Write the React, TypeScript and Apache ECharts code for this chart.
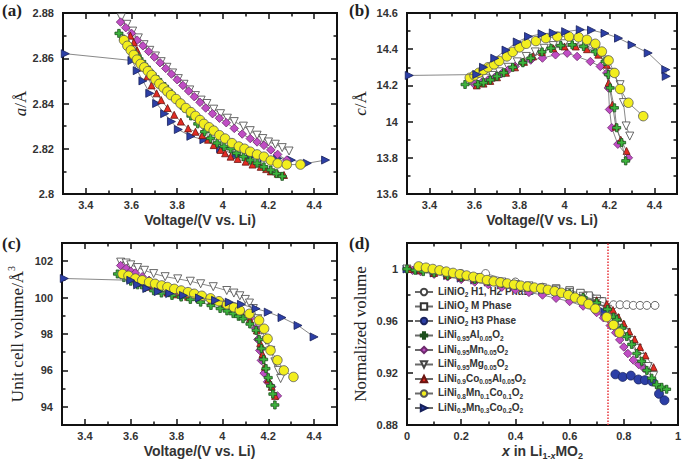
import React, { useEffect, useRef } from "react";
import * as echarts from "echarts";

// ---------------- tick values ----------------
const voltTicks = [3.4, 3.6, 3.8, 4, 4.2, 4.4];
const voltMinor = [3.5, 3.7, 3.9, 4.1, 4.3];
const aTicks = [2.8, 2.82, 2.84, 2.86, 2.88];
const aMinor = [2.81, 2.83, 2.85, 2.87];
const cTicks = [13.6, 13.8, 14, 14.2, 14.4, 14.6];
const cMinor = [13.7, 13.9, 14.1, 14.3, 14.5];
const volTicks = [94, 96, 98, 100, 102];
const volMinor = [95, 97, 99, 101];
const xTicks = [0, 0.2, 0.4, 0.6, 0.8, 1];
const xMinor = [0.1, 0.3, 0.5, 0.7, 0.9];
const normTicks = [0.88, 0.92, 0.96, 1];
const normMinor = [0.9, 0.94, 0.98];
const phaseBoundaryX = 0.737;

// ---------------- series names ----------------
const N_H12 = "LiNiO2 H1, H2 Phase";
const N_M = "LiNiO2 M Phase";
const N_H3 = "LiNiO2 H3 Phase";
const N_AL = "LiNi0.95Al0.05O2";
const N_MN = "LiNi0.95Mn0.05O2";
const N_MG = "LiNi0.95Mg0.05O2";
const N_COAL = "LiNi0.9Co0.05Al0.05O2";
const N_811 = "LiNi0.8Mn0.1Co0.1O2";
const N_532 = "LiNi0.5Mn0.3Co0.2O2";
const legendNames = [N_H12, N_M, N_H3, N_AL, N_MN, N_MG, N_COAL, N_811, N_532];
const legendRich: Record<string, string> = {
  [N_H12]: "{n|LiNiO}{s|2}{n| H1, H2 Phase}",
  [N_M]: "{n|LiNiO}{s|2}{n| M Phase}",
  [N_H3]: "{n|LiNiO}{s|2}{n| H3 Phase}",
  [N_AL]: "{n|LiNi}{s|0.95}{n|Al}{s|0.05}{n|O}{s|2}",
  [N_MN]: "{n|LiNi}{s|0.95}{n|Mn}{s|0.05}{n|O}{s|2}",
  [N_MG]: "{n|LiNi}{s|0.95}{n|Mg}{s|0.05}{n|O}{s|2}",
  [N_COAL]: "{n|LiNi}{s|0.9}{n|Co}{s|0.05}{n|Al}{s|0.05}{n|O}{s|2}",
  [N_811]: "{n|LiNi}{s|0.8}{n|Mn}{s|0.1}{n|Co}{s|0.1}{n|O}{s|2}",
  [N_532]: "{n|LiNi}{s|0.5}{n|Mn}{s|0.3}{n|Co}{s|0.2}{n|O}{s|2}",
};

// ---------------- (a) lattice a vs voltage ----------------
const aAl = [[3.545,2.871],[3.565,2.8685],[3.585,2.866],[3.605,2.8635],[3.625,2.861],[3.645,2.8585],[3.665,2.856],[3.69,2.853],[3.715,2.8505],[3.745,2.8475],[3.773,2.8445],[3.8,2.8415],[3.83,2.838],[3.86,2.8345],[3.89,2.831],[3.92,2.8275],[3.946,2.8246],[3.975,2.8225],[4.005,2.821],[4.034,2.82],[4.06,2.818],[4.09,2.8165],[4.12,2.815],[4.15,2.8136],[4.18,2.812],[4.21,2.8106],[4.235,2.809],[4.26,2.8078]];
const aMn = [[3.552,2.876],[3.575,2.8735],[3.6,2.871],[3.625,2.868],[3.65,2.8655],[3.675,2.863],[3.7,2.8605],[3.725,2.858],[3.75,2.8555],[3.775,2.853],[3.8,2.8505],[3.825,2.848],[3.85,2.8455],[3.875,2.843],[3.9,2.8405],[3.925,2.838],[3.955,2.8355],[3.985,2.8335],[4.015,2.8315],[4.05,2.829],[4.085,2.8265],[4.12,2.8245],[4.15,2.823],[4.18,2.8215],[4.21,2.8195],[4.24,2.8175],[4.28,2.815]];
const aMg = [[3.555,2.878],[3.58,2.875],[3.605,2.872],[3.63,2.869],[3.655,2.866],[3.68,2.8635],[3.705,2.861],[3.73,2.8585],[3.755,2.856],[3.78,2.8535],[3.805,2.851],[3.83,2.8485],[3.855,2.846],[3.88,2.8435],[3.905,2.8415],[3.93,2.84],[3.96,2.8375],[3.99,2.8355],[4.02,2.8335],[4.05,2.832],[4.09,2.83],[4.12,2.828],[4.15,2.826],[4.175,2.8245],[4.2,2.823],[4.23,2.822],[4.26,2.8205],[4.29,2.819]];
const aCoAl = [[3.595,2.87],[3.61,2.867],[3.624,2.8636],[3.638,2.86],[3.652,2.856],[3.67,2.852],[3.688,2.848],[3.71,2.8445],[3.73,2.8415],[3.758,2.838],[3.787,2.835],[3.816,2.832],[3.848,2.829],[3.88,2.8275],[3.91,2.826],[3.935,2.824],[3.96,2.8216],[3.99,2.8195],[4.01,2.818],[4.034,2.8165],[4.065,2.8155],[4.1,2.8143],[4.13,2.813],[4.166,2.812],[4.19,2.811],[4.21,2.81],[4.24,2.809],[4.268,2.8084]];
const a811 = [[3.567,2.868],[3.582,2.8655],[3.597,2.8635],[3.61,2.8615],[3.624,2.8594],[3.64,2.8575],[3.656,2.856],[3.672,2.8543],[3.688,2.8526],[3.705,2.8505],[3.722,2.8487],[3.74,2.847],[3.757,2.8453],[3.773,2.8437],[3.795,2.842],[3.815,2.84],[3.838,2.838],[3.86,2.8362],[3.88,2.8345],[3.9,2.8327],[3.917,2.831],[3.94,2.8295],[3.96,2.828],[3.985,2.826],[4.01,2.8245],[4.04,2.8225],[4.07,2.821],[4.095,2.82],[4.12,2.8187],[4.15,2.8175],[4.18,2.8165],[4.21,2.8148],[4.24,2.8135],[4.28,2.813],[4.34,2.813]];
const a532 = [[3.31,2.862],[3.602,2.859],[3.625,2.8545],[3.65,2.85],[3.68,2.8445],[3.71,2.84],[3.745,2.8355],[3.775,2.832],[3.805,2.8285],[3.86,2.8255],[3.917,2.824],[3.99,2.82],[4.06,2.817],[4.12,2.8165],[4.18,2.816],[4.24,2.8158],[4.3,2.815],[4.37,2.8136],[4.45,2.815]];

// ---------------- (b) lattice c vs voltage ----------------
const bAl = [[3.558,14.205],[3.615,14.205],[3.64,14.215],[3.67,14.23],[3.7,14.25],[3.73,14.27],[3.77,14.3],[3.815,14.325],[3.85,14.35],[3.9,14.385],[3.94,14.405],[3.983,14.42],[4.034,14.424],[4.085,14.415],[4.137,14.387],[4.18,14.332],[4.195,14.26],[4.203,14.186],[4.222,14.076],[4.232,13.966],[4.254,13.884],[4.272,13.783]];
const bMn = [[3.6,14.205],[3.63,14.215],[3.66,14.23],[3.69,14.245],[3.72,14.265],[3.75,14.285],[3.78,14.305],[3.815,14.325],[3.85,14.34],[3.902,14.351],[3.96,14.369],[4.012,14.378],[4.056,14.36],[4.115,14.332],[4.159,14.305],[4.188,14.269],[4.195,14.186],[4.2,14.067],[4.21,13.966],[4.237,13.875],[4.284,13.8]];
const bMg = [[3.58,14.225],[3.62,14.23],[3.65,14.24],[3.68,14.255],[3.71,14.275],[3.75,14.3],[3.79,14.33],[3.83,14.36],[3.87,14.385],[3.91,14.405],[3.95,14.42],[4,14.43],[4.05,14.432],[4.1,14.42],[4.14,14.39],[4.18,14.34],[4.21,14.27],[4.247,14.204],[4.262,14.105],[4.274,13.976],[4.29,13.92]];
const bCoAl = [[3.61,14.2],[3.64,14.21],[3.67,14.225],[3.7,14.245],[3.74,14.27],[3.78,14.3],[3.82,14.33],[3.86,14.36],[3.9,14.385],[3.95,14.405],[4,14.415],[4.05,14.415],[4.1,14.4],[4.15,14.37],[4.188,14.314],[4.196,14.214],[4.213,14.094],[4.228,13.972],[4.25,13.9],[4.276,13.838]];
const b811 = [[3.579,14.242],[3.6,14.255],[3.62,14.27],[3.64,14.285],[3.66,14.3],[3.687,14.316],[3.71,14.335],[3.744,14.36],[3.77,14.385],[3.8,14.41],[3.83,14.43],[3.873,14.445],[3.917,14.461],[3.968,14.47],[4.02,14.47],[4.063,14.466],[4.1,14.452],[4.137,14.43],[4.166,14.387],[4.196,14.338],[4.222,14.269],[4.247,14.18],[4.284,14.104],[4.35,14.03]];
const b532 = [[3.31,14.255],[3.61,14.26],[3.64,14.3],[3.69,14.35],[3.74,14.395],[3.79,14.44],[3.84,14.47],[3.9,14.485],[3.95,14.49],[4.005,14.497],[4.07,14.508],[4.12,14.505],[4.18,14.488],[4.24,14.461],[4.3,14.424],[4.372,14.379],[4.45,14.287],[4.452,14.25]];

// ---------------- (c) unit cell volume vs voltage ----------------
const cAl = [[3.542,101.3],[3.57,101.1],[3.6,100.9],[3.63,100.7],[3.66,100.55],[3.7,100.38],[3.734,100.25],[3.78,100.12],[3.82,100.03],[3.86,99.9],[3.905,99.75],[3.95,99.57],[3.99,99.4],[4.02,99.27],[4.047,99.12],[4.07,98.97],[4.09,98.84],[4.12,98.55],[4.147,98.2],[4.16,97.7],[4.17,97.2],[4.18,96.6],[4.19,96.1],[4.2,95.6],[4.21,95.15],[4.22,94.7],[4.229,94.1]];
const cMn = [[3.556,101.76],[3.58,101.6],[3.6,101.45],[3.62,101.35],[3.65,101.15],[3.68,100.95],[3.71,100.78],[3.75,100.6],[3.8,100.42],[3.85,100.25],[3.9,100.08],[3.95,99.9],[4,99.7],[4.04,99.5],[4.08,99.25],[4.12,98.85],[4.145,98.3],[4.155,97.7],[4.163,97.1],[4.17,96.55],[4.182,95.85],[4.197,95.37],[4.215,95.1],[4.24,94.6]];
const cMg = [[3.556,101.95],[3.58,101.9],[3.6,101.8],[3.63,101.65],[3.66,101.5],[3.7,101.32],[3.75,101.15],[3.805,101.03],[3.86,100.9],[3.905,100.76],[3.96,100.6],[4.019,100.39],[4.05,100.25],[4.076,100.1],[4.1,99.9],[4.118,99.7],[4.135,99.4],[4.154,98.84],[4.172,98.2],[4.19,97.65],[4.211,97.1],[4.229,96.47],[4.244,96],[4.254,95.55]];
const cCoAl = [[3.59,101.25],[3.62,101],[3.65,100.8],[3.68,100.6],[3.72,100.42],[3.76,100.28],[3.8,100.18],[3.85,100.05],[3.9,99.92],[3.95,99.78],[4,99.6],[4.04,99.42],[4.08,99.18],[4.12,98.8],[4.15,98.2],[4.165,97.5],[4.175,96.9],[4.185,96.2],[4.2,95.5],[4.215,95.1],[4.23,94.6]];
const c811 = [[3.564,101.3],[3.59,101.2],[3.62,101.05],[3.65,100.95],[3.68,100.85],[3.706,100.76],[3.735,100.67],[3.76,100.58],[3.79,100.48],[3.82,100.39],[3.85,100.3],[3.877,100.21],[3.91,100.1],[3.948,99.96],[3.985,99.8],[4.02,99.63],[4.05,99.47],[4.076,99.3],[4.118,99.11],[4.16,98.75],[4.182,98.29],[4.197,97.74],[4.21,97.1],[4.24,96.56],[4.268,96],[4.31,95.64]];
const c532 = [[3.31,101.05],[3.6,100.95],[3.63,100.7],[3.67,100.5],[3.72,100.33],[3.77,100.22],[3.83,100.12],[3.9,99.98],[3.97,99.85],[4.03,99.75],[4.083,99.63],[4.147,99.39],[4.2,99.2],[4.26,98.9],[4.33,98.47],[4.4,97.84]];

// ---------------- (d) normalized volume vs x ----------------
const dH12 = [[0,1],[0.1,0.998],[0.2,0.9965],[0.29,0.9965],[0.4,0.99],[0.5,0.986],[0.6,0.982],[0.68,0.978],[0.72,0.975],[0.762,0.9725],[0.786,0.9725],[0.811,0.9725],[0.835,0.972],[0.86,0.972],[0.885,0.972],[0.915,0.972]];
const dM = [[0.55,0.985],[0.6,0.9835],[0.64,0.9815],[0.67,0.9795],[0.7,0.977],[0.72,0.975]];
const dH3 = [[0.769,0.919],[0.796,0.917],[0.826,0.918],[0.854,0.915],[0.878,0.9145],[0.905,0.9135],[0.93,0.904],[0.95,0.899]];
const dAl = [[0,1],[0.03,0.999],[0.06,0.998],[0.1,0.997],[0.15,0.995],[0.2,0.9935],[0.25,0.992],[0.3,0.9905],[0.35,0.989],[0.4,0.9875],[0.45,0.986],[0.5,0.9845],[0.55,0.983],[0.6,0.981],[0.65,0.978],[0.7,0.974],[0.74,0.969],[0.762,0.963],[0.774,0.961],[0.792,0.9545],[0.811,0.948],[0.829,0.942],[0.848,0.935],[0.866,0.929],[0.885,0.922],[0.903,0.916],[0.921,0.911],[0.94,0.909],[0.958,0.9075]];
const dMn = [[0.02,0.999],[0.05,0.998],[0.1,0.996],[0.15,0.994],[0.2,0.992],[0.25,0.99],[0.3,0.988],[0.35,0.986],[0.4,0.984],[0.45,0.982],[0.5,0.98],[0.55,0.9775],[0.6,0.975],[0.65,0.9715],[0.7,0.9665],[0.725,0.9625],[0.75,0.9565],[0.77,0.951],[0.785,0.9455],[0.8,0.94],[0.815,0.935],[0.835,0.93],[0.855,0.9265],[0.875,0.9235]];
const dMg = [[0,1],[0.05,0.999],[0.1,0.997],[0.15,0.996],[0.2,0.994],[0.25,0.993],[0.3,0.991],[0.35,0.99],[0.4,0.988],[0.45,0.987],[0.5,0.9855],[0.55,0.984],[0.6,0.982],[0.65,0.979],[0.7,0.975],[0.74,0.969],[0.77,0.962],[0.79,0.9565],[0.81,0.951],[0.83,0.945],[0.85,0.939],[0.87,0.932],[0.89,0.925],[0.91,0.918]];
const dCoAl = [[0.01,1],[0.05,0.999],[0.1,0.997],[0.15,0.9955],[0.2,0.994],[0.25,0.9925],[0.3,0.991],[0.35,0.9895],[0.4,0.988],[0.45,0.9865],[0.5,0.985],[0.55,0.9835],[0.6,0.9815],[0.65,0.979],[0.7,0.976],[0.737,0.973],[0.76,0.9685],[0.78,0.963],[0.8,0.958],[0.82,0.952],[0.84,0.946],[0.86,0.94],[0.88,0.9335],[0.91,0.9245]];
const d811 = [[0.043,1.002],[0.07,1.001],[0.095,1],[0.12,0.999],[0.145,0.998],[0.17,0.997],[0.195,0.996],[0.22,0.995],[0.245,0.994],[0.27,0.993],[0.295,0.9915],[0.32,0.9905],[0.345,0.9897],[0.37,0.9889],[0.395,0.988],[0.42,0.9872],[0.445,0.9865],[0.47,0.9857],[0.495,0.985],[0.52,0.984],[0.545,0.9829],[0.57,0.9817],[0.595,0.98],[0.62,0.978],[0.645,0.9758],[0.67,0.973],[0.695,0.9695],[0.737,0.963],[0.762,0.957],[0.784,0.951]];
const d532 = [[0,1],[0.05,0.999],[0.1,0.997],[0.15,0.995],[0.2,0.993],[0.25,0.9915],[0.3,0.99],[0.35,0.9885],[0.4,0.987],[0.45,0.9855],[0.5,0.984],[0.55,0.9825],[0.6,0.9805],[0.65,0.9775],[0.7,0.973],[0.73,0.967]];

// ---------------- styles ----------------
const SANS = "'Liberation Sans', Arial, sans-serif";
const SERIF = "'Liberation Serif', 'Times New Roman', serif";
const PLUS = "path://M3.4,0H6.6V3.4H10V6.6H6.6V10H3.4V6.6H0V3.4H3.4Z";
const DOWN = "path://M0,0L10,0L5,9Z";
const RIGHT = "path://M0,0L9,5L0,10Z";

type St = { symbol: string; size: number; fill: string; stroke: string; z: number };
const ST: Record<string, St> = {
  al: { symbol: PLUS, size: 8, fill: "#3db53d", stroke: "#1d4f1d", z: 6 },
  mn: { symbol: "diamond", size: 8.5, fill: "#c04dc4", stroke: "#6d2a6d", z: 4 },
  mg: { symbol: DOWN, size: 8, fill: "#ffffff", stroke: "#444444", z: 3 },
  coal: { symbol: "triangle", size: 7, fill: "#e32b22", stroke: "#6a1410", z: 5 },
  n811: { symbol: "circle", size: 9.5, fill: "#f2ee1e", stroke: "#555555", z: 7 },
  n532: { symbol: RIGHT, size: 8, fill: "#2c3fa6", stroke: "#16205a", z: 2 },
  h12: { symbol: "circle", size: 8, fill: "#ffffff", stroke: "#444444", z: 2 },
  m: { symbol: "rect", size: 7.5, fill: "#ffffff", stroke: "#333333", z: 2 },
  h3: { symbol: "circle", size: 9, fill: "#2c3fa6", stroke: "#1a2460", z: 3 },
};

function ser(name: string, data: number[][], g: number, st: St, extra: any = {}) {
  return {
    type: "line",
    name,
    data,
    xAxisIndex: g * 4,
    yAxisIndex: g * 4,
    symbol: st.symbol,
    symbolSize: st.size,
    showSymbol: true,
    showAllSymbol: true,
    lineStyle: { color: "#6a6a6a", width: 0.8 },
    itemStyle: { color: st.fill, borderColor: st.stroke, borderWidth: 0.8 },
    z: st.z,
    silent: true,
    emphasis: { disabled: true },
    ...extra,
  };
}

const fmt = (v: number) => String(+Number(v).toFixed(4));

function axes(g: number, dim: "x" | "y", min: number, max: number, majors: number[], minors: number[], main: any) {
  const pos = dim === "x" ? ["bottom", "top", "top", "bottom"] : ["left", "right", "right", "left"];
  const list: any[] = [0, 1, 2, 3].map((i) => ({
    type: "value",
    gridIndex: g,
    min,
    max,
    position: pos[i],
    axisLine: { show: false, onZero: false },
    splitLine: { show: false },
    axisPointer: { show: false },
    axisLabel: { show: false },
    axisTick: {
      show: true,
      inside: true,
      length: i < 2 ? 6 : 3.5,
      customValues: i < 2 ? majors : minors,
      lineStyle: { color: "#111", width: 1.5 },
    },
  }));
  list[0].axisLabel = {
    show: true,
    customValues: majors,
    formatter: fmt,
    margin: dim === "x" ? 5 : 9,
    fontSize: 11,
    fontWeight: "bold",
    color: "#333",
    fontFamily: SANS,
  };
  Object.assign(list[0], main);
  return list;
}

const voltName = {
  name: "Voltage/(V vs. Li)",
  nameLocation: "middle",
  nameGap: 19,
  nameTextStyle: { fontFamily: SANS, fontWeight: "bold", fontSize: 14, color: "#333" },
};
const serifName = (name: string, gap: number) => ({
  name,
  nameLocation: "middle",
  nameGap: gap,
  nameTextStyle: {
    fontFamily: SERIF,
    fontSize: 17,
    color: "#222",
    rich: {
      i: { fontFamily: SERIF, fontSize: 17, fontStyle: "italic", color: "#222", lineHeight: 20, verticalAlign: "bottom" },
      n: { fontFamily: SERIF, fontSize: 17, color: "#222", lineHeight: 20, verticalAlign: "bottom" },
      sup: { fontFamily: SERIF, fontSize: 10, color: "#222", lineHeight: 10, verticalAlign: "top" },
    },
  },
});

export default function App() {
  const ref = useRef<HTMLDivElement>(null);
  useEffect(() => {
    if (!ref.current) return;
    const chart = echarts.init(ref.current, null, { renderer: "svg" });
    const grids = [
      { left: 63, top: 13, width: 274, height: 181 },
      { left: 407, top: 13, width: 270, height: 181 },
      { left: 62, top: 243, width: 275, height: 182 },
      { left: 407, top: 243, width: 271, height: 182 },
    ].map((g) => ({ ...g, show: true, borderColor: "#111", borderWidth: 2, backgroundColor: "transparent", containLabel: false }));

    const xAxis = [
      ...axes(0, "x", 3.3, 4.5, voltTicks, voltMinor, voltName),
      ...axes(1, "x", 3.3, 4.5, voltTicks, voltMinor, voltName),
      ...axes(2, "x", 3.3, 4.5, voltTicks, voltMinor, voltName),
      ...axes(3, "x", 0, 1, xTicks, xMinor, {
        name: "{bi|x}{b| in Li}{bs|1-}{bsi|x}{b|MO}{bs|2}",
        nameLocation: "middle",
        nameGap: 19,
        nameTextStyle: {
          rich: {
            bi: { fontFamily: SANS, fontWeight: "bold", fontStyle: "italic", fontSize: 14, color: "#333", lineHeight: 16, verticalAlign: "top" },
            b: { fontFamily: SANS, fontWeight: "bold", fontSize: 14, color: "#333", lineHeight: 16, verticalAlign: "top" },
            bs: { fontFamily: SANS, fontWeight: "bold", fontSize: 9, color: "#333", lineHeight: 5, verticalAlign: "bottom" },
            bsi: { fontFamily: SANS, fontWeight: "bold", fontStyle: "italic", fontSize: 9, color: "#333", lineHeight: 5, verticalAlign: "bottom" },
          },
        },
      }),
    ];
    const yAxis = [
      ...axes(0, "y", 2.8, 2.88, aTicks, aMinor, serifName("{i|a}{n|/Å}", 32)),
      ...axes(1, "y", 13.6, 14.6, cTicks, cMinor, serifName("{i|c}{n|/Å}", 38)),
      ...axes(2, "y", 93, 103, volTicks, volMinor, serifName("{n|Unit cell volume/Å}{sup|3}", 36)),
      ...axes(3, "y", 0.88, 1.02, normTicks, normMinor, serifName("{n|Normalized volume}", 38)),
    ];

    const series: any[] = [
      ser(N_532, a532, 0, ST.n532),
      ser(N_MG, aMg, 0, ST.mg),
      ser(N_MN, aMn, 0, ST.mn),
      ser(N_COAL, aCoAl, 0, ST.coal),
      ser(N_AL, aAl, 0, ST.al),
      ser(N_811, a811, 0, ST.n811),

      ser(N_MG, bMg, 1, ST.mg),
      ser(N_MN, bMn, 1, ST.mn),
      ser(N_COAL, bCoAl, 1, ST.coal),
      ser(N_AL, bAl, 1, ST.al),
      ser(N_811, b811, 1, ST.n811),
      ser(N_532, b532, 1, { ...ST.n532, z: 8 }),

      ser(N_532, c532, 2, { ...ST.n532, z: 8 }),
      ser(N_MG, cMg, 2, ST.mg),
      ser(N_MN, cMn, 2, ST.mn),
      ser(N_COAL, cCoAl, 2, ST.coal),
      ser(N_AL, cAl, 2, ST.al),
      ser(N_811, c811, 2, ST.n811),

      ser(N_H12, dH12, 3, ST.h12, {
        markLine: {
          silent: true,
          symbol: "none",
          label: { show: false },
          lineStyle: { color: "#e8333a", type: "dotted", width: 1.5 },
          data: [{ xAxis: phaseBoundaryX }],
        },
      }),
      ser(N_M, dM, 3, ST.m),
      ser(N_H3, dH3, 3, ST.h3),
      ser(N_532, d532, 3, ST.n532),
      ser(N_MG, dMg, 3, ST.mg),
      ser(N_MN, dMn, 3, ST.mn),
      ser(N_COAL, dCoAl, 3, ST.coal),
      ser(N_AL, dAl, 3, ST.al),
      ser(N_811, d811, 3, ST.n811),
    ];

    chart.setOption({
      animation: false,
      backgroundColor: "#ffffff",
      grid: grids,
      xAxis,
      yAxis,
      series,
      legend: {
        data: legendNames,
        orient: "vertical",
        left: 414,
        top: 286,
        itemWidth: 18,
        itemHeight: 8,
        itemGap: 2.5,
        padding: 0,
        selectedMode: false,
        formatter: (n: string) => legendRich[n] || n,
        textStyle: {
          fontFamily: SANS,
          fontWeight: "bold",
          fontSize: 10,
          color: "#333",
          rich: {
            n: { fontFamily: SANS, fontWeight: "bold", fontSize: 10, color: "#333", lineHeight: 12, verticalAlign: "top" },
            s: { fontFamily: SANS, fontWeight: "bold", fontSize: 6.5, color: "#333", lineHeight: 4, verticalAlign: "bottom" },
          },
        },
      },
      graphic: [
        { type: "text", left: 2, top: 2, style: { text: "(a)", fontFamily: SERIF, fontWeight: "bold", fontSize: 17, fill: "#222" } },
        { type: "text", left: 349, top: 2, style: { text: "(b)", fontFamily: SERIF, fontWeight: "bold", fontSize: 17, fill: "#222" } },
        { type: "text", left: 2, top: 235, style: { text: "(c)", fontFamily: SERIF, fontWeight: "bold", fontSize: 17, fill: "#222" } },
        { type: "text", left: 349, top: 235, style: { text: "(d)", fontFamily: SERIF, fontWeight: "bold", fontSize: 17, fill: "#222" } },
      ],
    });
    return () => chart.dispose();
  }, []);
  return <div ref={ref} style={{ position: "fixed", left: 0, top: 0, width: 685, height: 466, background: "#fff" }} />;
}
